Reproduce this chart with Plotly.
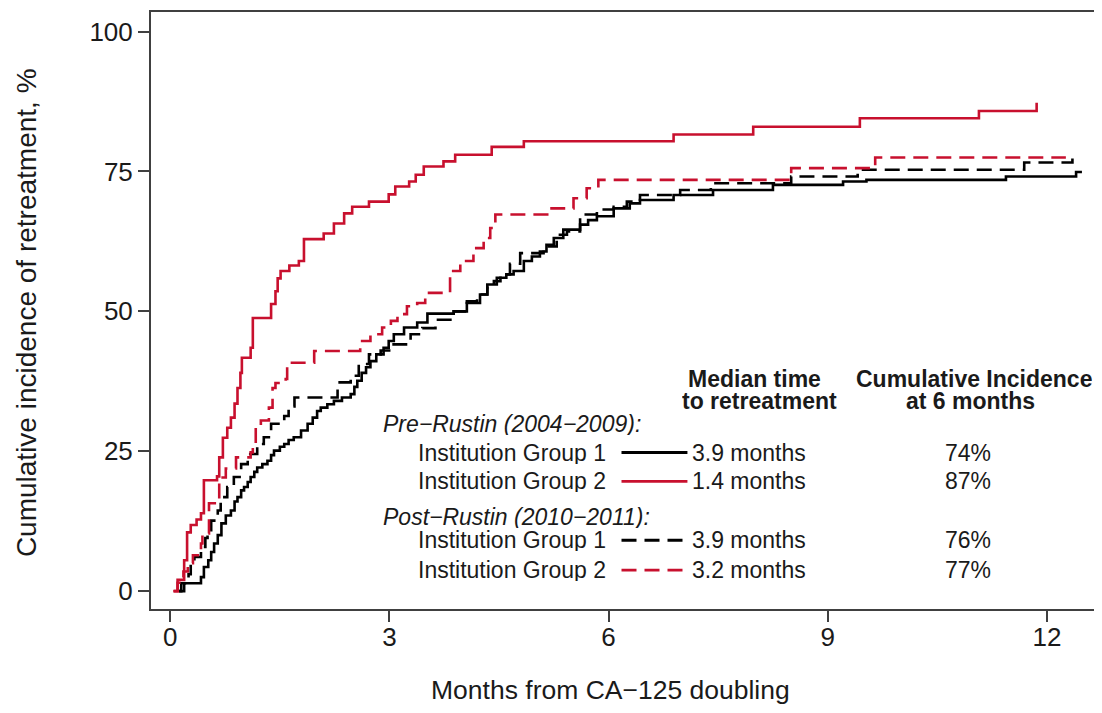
import plotly.graph_objects as go

# ---------------- data ----------------
pre_g1_t = [0.12, 0.19, 0.42, 0.46, 0.52, 0.56, 0.60, 0.65, 0.70, 0.76, 0.83, 0.88, 0.92, 0.97, 1.01,
            1.06, 1.10, 1.15, 1.19, 1.26, 1.33, 1.38, 1.42, 1.50, 1.56, 1.62, 1.69, 1.79, 1.88, 1.95,
            2.01, 2.06, 2.15, 2.24, 2.35, 2.47, 2.52, 2.56, 2.62, 2.68, 2.74, 2.82, 2.92, 2.99, 3.06,
            3.20, 3.38, 3.52, 3.88, 4.06, 4.24, 4.34, 4.47, 4.60, 4.70, 4.84, 4.95, 5.06, 5.15, 5.25,
            5.38, 5.61, 5.72, 5.84, 6.07, 6.29, 6.43, 6.89, 7.43, 8.25, 9.21, 9.53, 11.44, 12.40, 12.48]
pre_g1_y = [0.0, 1.4, 2.5, 4.3, 5.5, 7.0, 8.5, 10.0, 12.1, 13.5, 14.4, 16.0, 16.8, 18.0, 18.6,
            19.5, 20.4, 21.3, 22.1, 22.7, 23.3, 24.3, 25.1, 25.8, 26.3, 27.0, 27.5, 28.7, 29.9, 31.0,
            32.2, 32.8, 33.4, 34.0, 34.6, 35.2, 36.5, 37.6, 39.0, 40.0, 41.1, 42.3, 43.5, 44.7, 45.9,
            47.1, 48.0, 49.6, 50.0, 51.5, 53.0, 54.8, 56.0, 56.6, 57.2, 59.0, 59.8, 60.7, 61.9, 63.1,
            64.6, 65.5, 66.3, 67.0, 68.4, 69.3, 69.9, 70.8, 71.7, 72.6, 73.2, 73.5, 74.1, 74.9, 74.9]

pre_g2_t = [0.04, 0.10, 0.19, 0.23, 0.28, 0.36, 0.42, 0.46, 0.64, 0.67, 0.72, 0.78, 0.83, 0.88, 0.92,
            0.96, 0.98, 1.10, 1.13, 1.38, 1.44, 1.47, 1.51, 1.63, 1.76, 1.83, 2.10, 2.24, 2.38, 2.49,
            2.72, 2.99, 3.08, 3.27, 3.36, 3.47, 3.74, 3.90, 4.40, 4.84, 6.89, 7.98, 9.44, 11.07, 11.86]
pre_g2_y = [0.0, 2.0, 5.5, 10.5, 11.8, 12.8, 13.9, 19.8, 20.5, 23.9, 27.4, 29.2, 31.0, 33.5, 36.3,
            39.0, 41.7, 43.5, 48.8, 51.3, 53.6, 55.9, 57.2, 58.2, 59.0, 62.9, 63.9, 65.7, 67.5, 68.7,
            69.6, 70.9, 72.3, 73.2, 74.4, 75.9, 76.8, 78.0, 79.4, 80.4, 81.6, 83.0, 84.5, 85.8, 87.3]

post_g1_t = [0.12, 0.15, 0.25, 0.28, 0.33, 0.42, 0.48, 0.51, 0.56, 0.65, 0.69, 0.78, 0.87, 0.97, 1.06,
             1.19, 1.28, 1.38, 1.56, 1.62, 1.70, 2.29, 2.47, 2.58, 2.72, 2.88, 3.02, 3.29, 3.45, 3.63,
             3.88, 4.06, 4.20, 4.34, 4.43, 4.52, 4.65, 4.79, 5.11, 5.29, 5.43, 5.61, 5.84, 6.07, 6.25,
             6.43, 6.98, 7.40, 8.50, 9.41, 11.69, 12.35, 12.38]
post_g1_y = [0.0, 1.4, 3.0, 4.9, 6.1, 7.9, 9.5, 10.9, 12.6, 14.4, 16.8, 18.6, 20.4, 22.7, 24.5,
             26.3, 27.5, 29.9, 31.3, 33.0, 34.6, 37.3, 38.5, 40.6, 42.3, 43.0, 44.1, 45.9, 47.0, 48.5,
             50.0, 51.8, 53.0, 54.2, 55.4, 56.6, 58.5, 60.4, 61.6, 63.7, 64.3, 67.3, 68.2, 68.7, 69.6,
             70.8, 71.7, 72.9, 74.1, 75.3, 76.6, 77.9, 77.9]

post_g2_t = [0.05, 0.10, 0.18, 0.24, 0.31, 0.42, 0.44, 0.53, 0.67, 0.76, 0.90, 1.10, 1.13, 1.17, 1.24,
             1.35, 1.40, 1.44, 1.58, 1.60, 1.97, 2.60, 2.74, 2.90, 3.02, 3.11, 3.24, 3.38, 3.49, 3.83,
             3.97, 4.15, 4.29, 4.38, 4.45, 5.16, 5.52, 5.70, 5.86, 8.50, 9.65, 12.26]
post_g2_y = [0.0, 1.5, 3.5, 5.0, 6.4, 8.5, 10.3, 15.7, 20.3, 21.9, 23.9, 24.8, 26.3, 29.2, 30.5,
             32.8, 36.3, 37.2, 37.9, 40.8, 42.9, 44.7, 45.9, 47.1, 48.3, 49.5, 50.9, 51.5, 53.3, 57.2,
             59.0, 61.3, 63.1, 64.9, 67.3, 68.4, 70.2, 72.0, 73.5, 75.6, 77.5, 77.5]

x_ticks = [0, 3, 6, 9, 12]
y_ticks = [0, 25, 50, 75, 100]

periods = ["Pre\u2212Rustin (2004\u22122009):", "Post\u2212Rustin (2010\u22122011):"]
groups = ["Institution Group 1", "Institution Group 2"]
medians = [["3.9 months", "1.4 months"], ["3.9 months", "3.2 months"]]
incid = [["74%", "87%"], ["76%", "77%"]]

BLACK = "#000000"
RED = "#c8102e"
DASH = "15px,8px"
FONT = "Liberation Sans, Arial, sans-serif"

# ---------------- figure ----------------
fig = go.Figure()
series = [
    (pre_g1_t, pre_g1_y, BLACK, "solid"),
    (pre_g2_t, pre_g2_y, RED, "solid"),
    (post_g1_t, post_g1_y, BLACK, DASH),
    (post_g2_t, post_g2_y, RED, DASH),
]
for t, y, c, d in series:
    fig.add_trace(go.Scatter(x=t, y=y, mode="lines", line=dict(shape="hv", color=c, width=2.6, dash=d),
                             showlegend=False, hoverinfo="skip"))

# page has an 8px body margin: figure pixel = screen pixel - 8
OFF = 8
L, R, T, B = 151 - OFF, 1099 - OFF, 10 - OFF, 609 - OFF
W, H = 1094, 705


def px(x):
    return (x - OFF - L) / (R - L)


def py(y):
    return (B - (y - OFF)) / (B - T)


anns = []
shapes = []
TXT = "#1a1a1a"
tf = dict(family=FONT, size=23, color=TXT)
bf = dict(family=FONT, size=23, color=TXT)
BOXH = 22  # tight text boxes, as the reference rows are only ~22px apart

anns.append(dict(text="<b>Median time</b>", x=px(755), y=py(378), xanchor="center", yanchor="middle", font=bf))
anns.append(dict(text="<b>to retreatment</b>", x=px(760), y=py(400), xanchor="center", yanchor="middle", font=bf))
anns.append(dict(text="<b>Cumulative Incidence</b>", x=px(975), y=py(378), xanchor="center", yanchor="middle", font=bf))
anns.append(dict(text="<b>at 6 months</b>", x=px(971), y=py(400), xanchor="center", yanchor="middle", font=bf))

period_y = [423, 517]
row_y = [[452, 481], [540, 570]]
colors = [BLACK, RED]
for pi, per in enumerate(periods):
    anns.append(dict(text="<i>" + per + "</i>", x=px(382), y=py(period_y[pi]), xanchor="left",
                     yanchor="middle", font=tf))
    for gi, g in enumerate(groups):
        yy = row_y[pi][gi]
        anns.append(dict(text=g, x=px(417), y=py(yy), xanchor="left", yanchor="middle", font=tf))
        anns.append(dict(text=medians[pi][gi], x=px(692), y=py(yy), xanchor="left", yanchor="middle", font=tf))
        anns.append(dict(text=incid[pi][gi], x=px(969), y=py(yy), xanchor="center", yanchor="middle", font=tf))
        shapes.append(dict(type="line", xref="paper", yref="paper", x0=px(622), x1=px(688),
                           y0=py(yy), y1=py(yy),
                           line=dict(color=colors[gi], width=2.8, dash="solid" if pi == 0 else DASH)))

for a in anns:
    a.update(xref="paper", yref="paper", showarrow=False, height=BOXH, borderpad=0)

# axis titles
anns.append(dict(text="Cumulative incidence of retreatment, %", xref="paper", yref="paper",
                 x=px(27), y=py(312), textangle=-90, showarrow=False, xanchor="center", yanchor="middle",
                 font=dict(family=FONT, size=28, color=TXT)))
anns.append(dict(text="Months from CA\u2212125 doubling", xref="paper", yref="paper",
                 x=px(611), y=py(690), showarrow=False, xanchor="center", yanchor="middle",
                 font=dict(family=FONT, size=26.5, color=TXT)))

x_range = [-0.264, 12.70]
y_range = [-3.2, 103.5]

fig.update_layout(
    width=W, height=H,
    margin=dict(l=L, r=W - R, t=T, b=H - B, pad=0),
    paper_bgcolor="white", plot_bgcolor="white",
    annotations=anns, shapes=shapes,
    xaxis=dict(range=x_range, tickvals=x_ticks, ticktext=[str(v) for v in x_ticks],
               showgrid=False, zeroline=False, showline=True, mirror=True,
               linecolor="#404040", linewidth=2, ticks="outside", ticklen=11, tickwidth=2,
               tickcolor="#404040", ticklabelstandoff=-7,
               tickfont=dict(family=FONT, size=26, color=TXT)),
    yaxis=dict(range=y_range, tickvals=y_ticks, ticktext=[str(v) for v in y_ticks],
               showgrid=False, zeroline=False, showline=True, mirror=True,
               linecolor="#404040", linewidth=2, ticks="outside", ticklen=11, tickwidth=2,
               tickcolor="#404040", tickfont=dict(family=FONT, size=26, color=TXT)),
)

fig.write_html("out.html")
